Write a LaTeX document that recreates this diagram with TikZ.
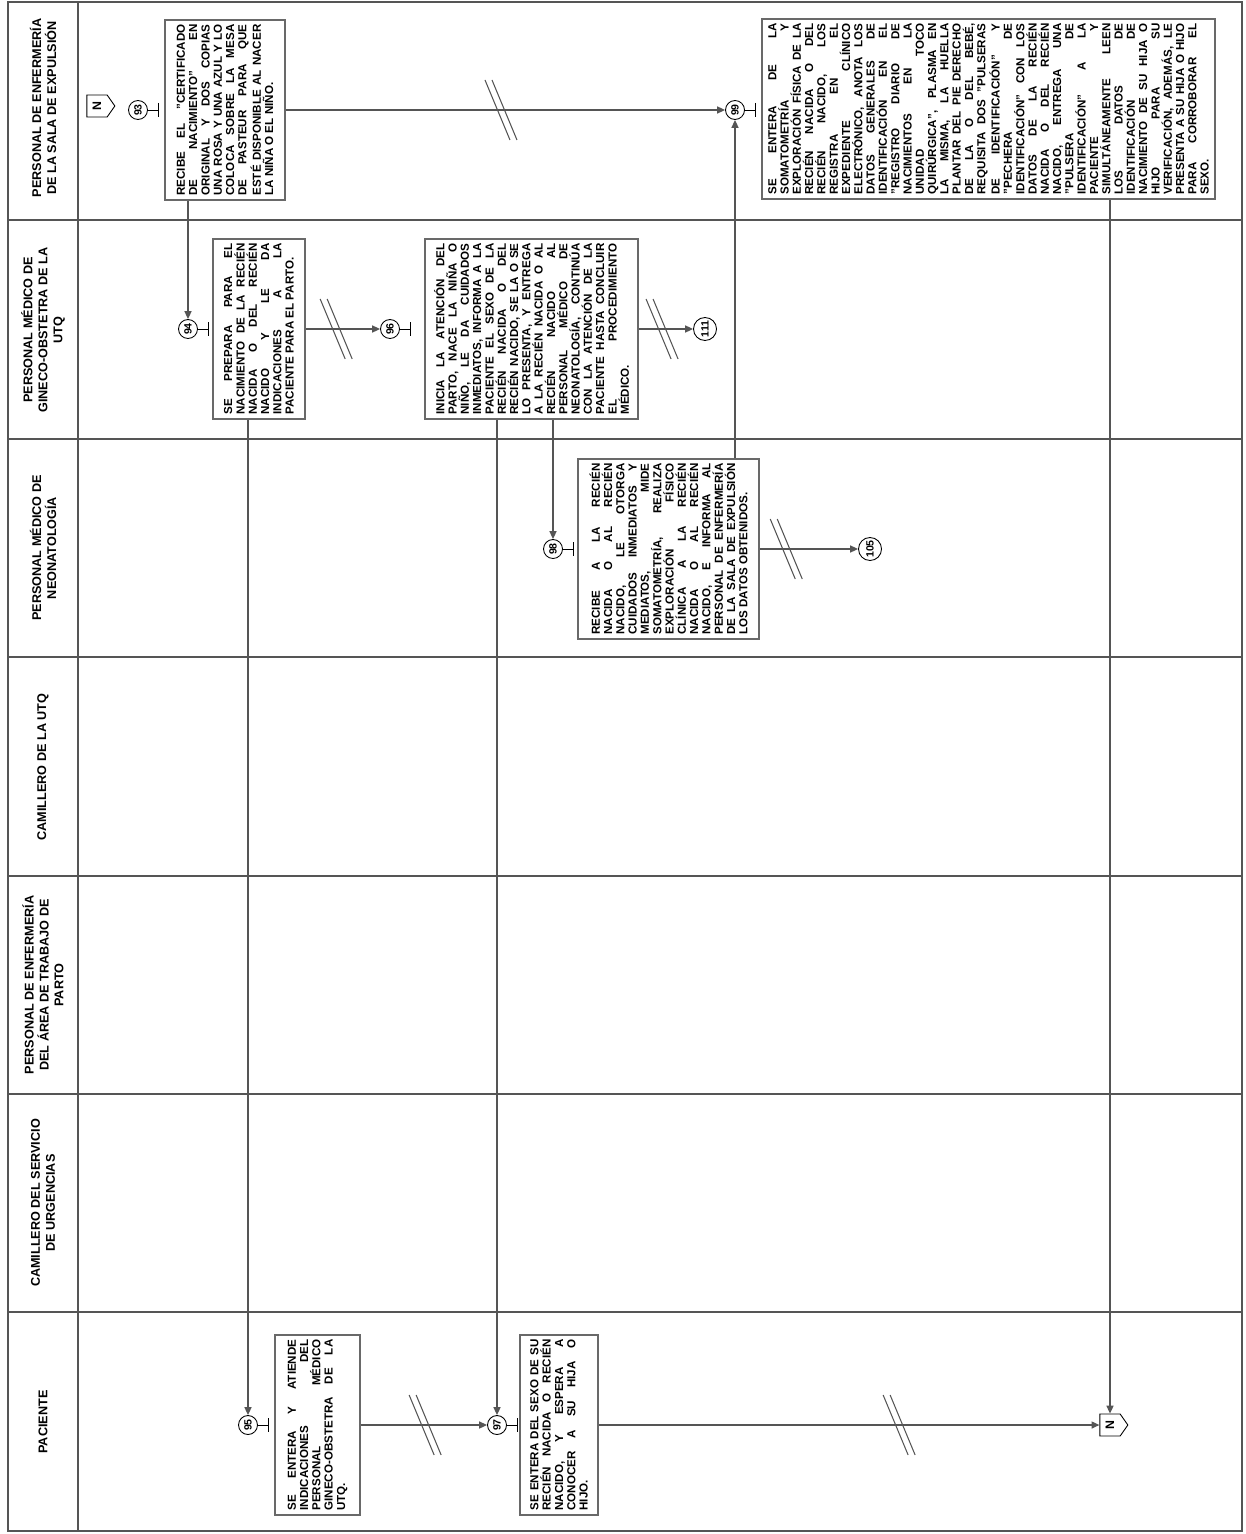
\documentclass[tikz,border=0pt]{standalone}
\usepackage{graphicx}
\usepackage{fontspec}
\setmainfont{Liberation Sans}
\usetikzlibrary{arrows.meta,shapes.symbols}

\definecolor{lanegray}{RGB}{85,85,85}
\definecolor{boxgray}{RGB}{105,105,105}

% texto de actividad, girado como en el diagrama
\newcommand{\acttxt}[1]{\rotatebox{90}{\parbox{3.42cm}{\fontsize{6.6}{7}\selectfont\bfseries
  \tolerance=10000\hbadness=10000\hyphenpenalty=10000\exhyphenpenalty=10000 #1}}}
\newcommand{\lbr}{\linebreak}
\newcommand{\vnum}[1]{\rotatebox{90}{#1}}
% marca de corte sobre un conector
\newcommand{\brk}[1]{\draw[brkline] ([shift={(-16,-30)}]#1) -- ([shift={(9,30)}]#1)
  ([shift={(-9,-30)}]#1) -- ([shift={(16,30)}]#1);}

\begin{document}
\begin{tikzpicture}[
  x=0.02cm, y=-0.02cm,
  frame/.style={draw=lanegray, line width=1.2pt},
  hdr/.style={rotate=90, align=center, inner sep=1pt, font=\fontsize{7.2}{8.5}\selectfont\bfseries},
  act/.style={draw=boxgray, line width=0.8pt, fill=white, inner sep=0pt, minimum height=3.6cm},
  num/.style={circle, draw=black, line width=0.5pt, inner sep=0pt, minimum size=0.38cm, font=\fontsize{6}{6}\selectfont\bfseries},
  bignum/.style={num, minimum size=0.46cm},
  offpage/.style={signal, signal to=east, signal pointer angle=110, draw=black, line width=0.5pt, inner sep=0pt, minimum width=0.56cm, minimum height=0.44cm, font=\fontsize{7}{7}\selectfont\bfseries},
  flow/.style={draw=lanegray, line width=0.8pt, -{Triangle[length=4.5pt,width=4pt]}},
  tick/.style={draw=black, line width=0.5pt},
  brkline/.style={draw=lanegray, line width=0.6pt}
]
  \useasboundingbox (0,0) rectangle (1245,1534);

  % carriles
  \draw[frame] (8,2) rectangle (1242,1531);
  \draw[frame] (78,2) -- (78,1531);
  \foreach \i in {1,...,6}
    \draw[frame] (8,{2+\i*218.4}) -- (1242,{2+\i*218.4});

  % encabezados
  \node[hdr] (h1) at (43,108) {PERSONAL DE ENFERMERÍA\\DE LA SALA DE EXPULSIÓN};
  \node[hdr] (h2) at (43,330) {PERSONAL MÉDICO DE\\GINECO-OBSTETRA DE LA\\UTQ};
  \node[hdr] (h3) at (43,548) {PERSONAL MÉDICO DE\\NEONATOLOGÍA};
  \node[hdr] (h4) at (43,767) {CAMILLERO DE LA UTQ};
  \node[hdr] (h5) at (43,985) {PERSONAL DE ENFERMERÍA\\DEL ÁREA DE TRABAJO DE\\PARTO};
  \node[hdr] (h6) at (43,1203) {CAMILLERO DEL SERVICIO\\DE URGENCIAS};
  \node[hdr] (h7) at (43,1422) {PACIENTE};

  % conectores de pagina
  \node[offpage] (n1) at (97,106) {\vnum{N}};
  \node[offpage] (n2) at (1110,1425) {\vnum{N}};

  % actividades
  \node[num] (c93) at (138,110) {\vnum{93}};
  \node[act, minimum width=2.4cm] (b93) at (225,110) {\acttxt{RECIBE EL "CERTIFICADO\lbr DE NACIMIENTO" EN\lbr ORIGINAL Y DOS COPIAS\lbr UNA ROSA Y UNA AZUL Y LO\lbr COLOCA SOBRE LA MESA\lbr DE PASTEUR PARA QUE\lbr ESTÉ DISPONIBLE AL NACER\lbr LA NIÑA O EL NIÑO.}};

  \node[num] (c94) at (188,329) {\vnum{94}};
  \node[act, minimum width=1.84cm] (b94) at (259,329) {\acttxt{SE PREPARA PARA EL\lbr NACIMIENTO DE LA RECIÉN\lbr NACIDA O DEL RECIÉN\lbr NACIDO Y LE DA\lbr INDICACIONES A LA\lbr PACIENTE PARA EL PARTO.}};

  \node[num] (c96) at (390,329) {\vnum{96}};
  \node[act, minimum width=4.26cm] (b96) at (531.5,329) {\acttxt{INICIA LA ATENCIÓN DEL\lbr PARTO, NACE LA NIÑA O\lbr NIÑO, LE DA CUIDADOS\lbr INMEDIATOS, INFORMA A LA\lbr PACIENTE EL SEXO DE LA\lbr RECIÉN NACIDA O DEL\lbr RECIÉN NACIDO, SE LA O SE\lbr LO PRESENTA, Y ENTREGA\lbr A LA RECIÉN NACIDA O AL\lbr RECIÉN NACIDO AL\lbr PERSONAL MÉDICO DE\lbr NEONATOLOGÍA, CONTINÚA\lbr CON LA ATENCIÓN DE LA\lbr PACIENTE HASTA CONCLUIR\lbr EL PROCEDIMIENTO\lbr MÉDICO.}};

  \node[bignum] (c111) at (705,329) {\vnum{111}};

  \node[num] (c98) at (553,549) {\vnum{98}};
  \node[act, minimum width=3.62cm] (b98) at (668.5,549) {\acttxt{RECIBE A LA RECIÉN\lbr NACIDA O AL RECIÉN\lbr NACIDO, LE OTORGA\lbr CUIDADOS INMEDIATOS Y\lbr MEDIATOS, MIDE\lbr SOMATOMETRÍA, REALIZA\lbr EXPLORACIÓN FÍSICO\lbr CLÍNICA A LA RECIÉN\lbr NACIDA O AL RECIÉN\lbr NACIDO, E INFORMA AL\lbr PERSONAL DE ENFERMERÍA\lbr DE LA SALA DE EXPULSIÓN\lbr LOS DATOS OBTENIDOS.}};

  \node[bignum] (c105) at (870,549) {\vnum{105}};

  \node[num] (c99) at (735,110) {\vnum{99}};
  \node[act, minimum width=9.06cm] (b99) at (988.5,109) {\acttxt{SE ENTERA DE LA\lbr SOMATOMETRÍA Y\lbr EXPLORACIÓN FÍSICA DE LA\lbr RECIÉN NACIDA O DEL\lbr RECIÉN NACIDO, LOS\lbr REGISTRA EN EL\lbr EXPEDIENTE CLÍNICO\lbr ELECTRÓNICO, ANOTA LOS\lbr DATOS GENERALES DE\lbr IDENTIFICACIÓN EN EL\lbr "REGISTRO DIARIO DE\lbr NACIMIENTOS EN LA\lbr UNIDAD TOCO\lbr QUIRÚRGICA", PLASMA EN\lbr LA MISMA, LA HUELLA\lbr PLANTAR DEL PIE DERECHO\lbr DE LA O DEL BEBÉ,\lbr REQUISITA DOS "PULSERAS\lbr DE IDENTIFICACIÓN" Y\lbr "PECHERA DE\lbr IDENTIFICACIÓN" CON LOS\lbr DATOS DE LA RECIÉN\lbr NACIDA O DEL RECIÉN\lbr NACIDO, ENTREGA UNA\lbr "PULSERA DE\lbr IDENTIFICACIÓN" A LA\lbr PACIENTE Y\lbr SIMULTÁNEAMENTE LEEN\lbr LOS DATOS DE\lbr IDENTIFICACIÓN DE\lbr NACIMIENTO DE SU HIJA O\lbr HIJO PARA SU\lbr VERIFICACIÓN, ADEMÁS, LE\lbr PRESENTA A SU HIJA O HIJO\lbr PARA CORROBORAR EL\lbr SEXO.}};

  \node[num] (c95) at (248,1425) {\vnum{95}};
  \node[act, minimum width=1.7cm] (b95) at (317.5,1425) {\acttxt{SE ENTERA Y ATIENDE\lbr INDICACIONES DEL\lbr PERSONAL MÉDICO\lbr GINECO-OBSTETRA DE LA\lbr UTQ.}};

  \node[num] (c97) at (497,1425) {\vnum{97}};
  \node[act, minimum width=1.56cm] (b97) at (559,1425) {\acttxt{SE ENTERA DEL SEXO DE SU\lbr RECIÉN NACIDA O RECIÉN\lbr NACIDO, Y ESPERA A\lbr CONOCER A SU HIJA O\lbr HIJO.}};

  % marcas de inicio de actividad
  \foreach \c in {c93,c94,c95,c96,c97,c98,c99}
    \draw[tick] (\c.east) -- ++(10,0) ++(0,-7) -- ++(0,14);

  % flujo
  \draw[flow] (b93.east) -- coordinate[pos=0.49] (k1) (c99.west);
  \draw[flow] (b94.east) -- coordinate[pos=0.41] (k2) (c96.west);
  \draw[flow] (b96.east) -- coordinate[pos=0.43] (k3) (c111.west);
  \draw[flow] (b98.east) -- coordinate[pos=0.27] (k4) (c105.west);
  \draw[flow] (b95.east) -- coordinate[pos=0.51] (k5) (c97.west);
  \draw[flow] (b97.east) -- coordinate[pos=0.6] (k6) (n2.west);
  \foreach \k in {k1,k2,k3,k4,k5,k6}
    {\brk{\k}}

  \draw[flow] (c94 |- b93.south) -- (c94.north);
  \draw[flow] (c95 |- b94.south) -- (c95.north);
  \draw[flow] (c98 |- b96.south) -- (c98.north);
  \draw[flow] (c97 |- b96.south) -- (c97.north);
  \draw[flow] (c99 |- b98.north) -- (c99.south);
  \draw[flow] (n2 |- b99.south) -- (n2.north);
\end{tikzpicture}
\end{document}
